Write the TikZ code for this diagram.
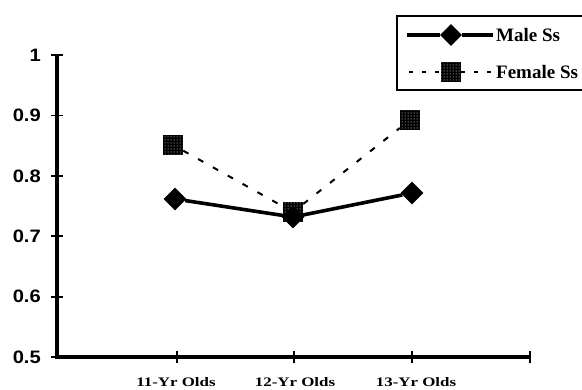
\documentclass[tikz,border=0pt]{standalone}
\usepackage{fontspec}
\setmainfont{Liberation Serif}
\newfontfamily\arialf{Liberation Sans}
\usetikzlibrary{shapes.geometric,patterns}
\begin{document}
\begin{tikzpicture}[x=1pt,y=-1pt,
 malemk/.style={diamond, fill=black, minimum width=23pt, minimum height=23pt, inner sep=0pt},
 femmk/.style={rectangle, fill=black, minimum size=20pt, inner sep=0pt, postaction={pattern=dots, pattern color=white}},
 maleln/.style={line width=3.6pt},
 femln/.style={line width=2pt, dash pattern=on 6pt off 11pt},
 axisln/.style={line width=3.4pt},
 tickln/.style={line width=1.8pt},
 ylab/.style={font=\arialf\bfseries\fontsize{18}{18}\selectfont, anchor=east, inner sep=0pt},
 xlab/.style={font=\bfseries\fontsize{13}{13}\selectfont, inner sep=0pt},
 leg/.style={font=\bfseries\fontsize{19}{19}\selectfont, anchor=west, inner sep=0pt}]
\useasboundingbox (0,0) rectangle (582,389);
\fill[white] (0,0) rectangle (582,389);

% axes
\coordinate (ytop) at (57,55);
\coordinate (orig) at (57,357);
\coordinate (xend) at (530,357);
\draw[axisln] (ytop) -- (orig) -- (xend);

% y ticks and labels
\foreach \v/\t in {0/0.5,1/0.6,2/0.7,3/0.8,4/0.9,5/1}{
  \coordinate (yt\v) at (57,{357-60.4*\v});
  \draw[tickln] ([xshift=-6pt]yt\v) -- ([xshift=6pt]yt\v);
  \node[ylab] (yl\v) at ([xshift=-16pt]yt\v) {\scalebox{1.12}[1]{\t}};
}

% x ticks
\foreach \i/\x in {1/177,2/294,3/412,4/530}{
  \coordinate (xt\i) at (\x,357);
  \draw[tickln] ([yshift=-6pt]xt\i) -- ([yshift=6pt]xt\i);
}
\node[xlab] (xl1) at (176,382) {\scalebox{1.3}[1]{11-Yr Olds}};
\node[xlab] (xl2) at (295,382) {\scalebox{1.3}[1]{12-Yr Olds}};
\node[xlab] (xl3) at (416,382) {\scalebox{1.3}[1]{13-Yr Olds}};

% female series
\node[femmk] (f1) at (173,145) {};
\node[femmk] (f2) at (293,212) {};
\node[femmk] (f3) at (410,120) {};
\draw[femln] (f1) -- (f2) -- (f3);

% male series
\node[malemk] (m1) at (175,199) {};
\node[malemk] (m2) at (293,217) {};
\node[malemk] (m3) at (412,193) {};
\draw[maleln] (m1) -- (m2) -- (m3);

% legend
\node[draw, line width=2.2pt, minimum width=190pt, minimum height=74pt, anchor=north west, inner sep=0pt] (legbox) at (396,15) {};
\coordinate (l1a) at (407,35);
\coordinate (l1b) at (493,35);
\node[malemk, minimum width=22pt, minimum height=22pt] (lm) at (451,35) {};
\draw[maleln] (l1a) -- (lm) -- (l1b);
\node[leg] (lt1) at (496,35) {Male Ss};
\coordinate (l2a) at (409,72);
\coordinate (l2b) at (493,72);
\node[femmk] (lf) at (451,72) {};
\draw[femln, dash pattern=on 4pt off 9pt] (l2a) -- (lf) -- (l2b);
\node[leg] (lt2) at (496,72) {Female Ss};
\end{tikzpicture}
\end{document}
